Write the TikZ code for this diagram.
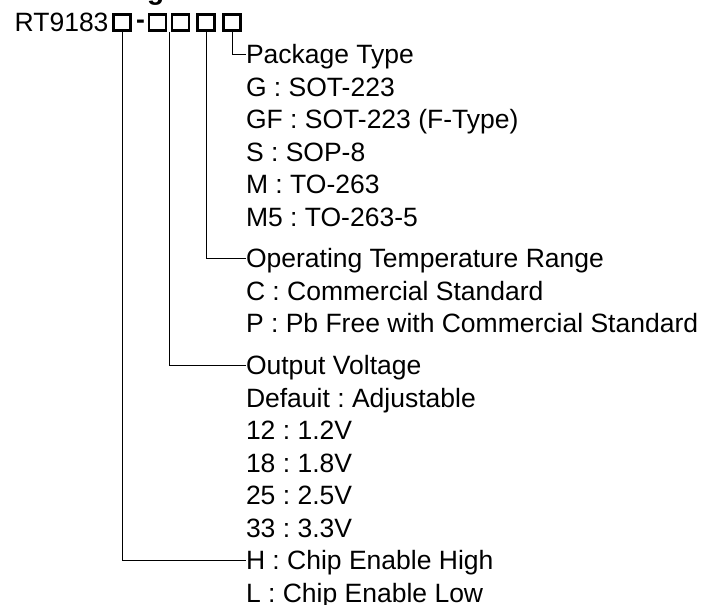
\documentclass[tikz,border=0pt]{standalone}
\usepackage{fontspec}
\setmainfont{Liberation Sans}
\usetikzlibrary{positioning,calc}

\begin{document}
\frenchspacing
\begin{tikzpicture}[x=1pt,y=-1pt,
  font=\fontsize{26.5pt}{32pt}\selectfont,
  cell/.style={draw,line width=2.6pt,minimum width=17pt,minimum height=16pt,inner sep=0pt},
  lbl/.style={inner sep=0pt,outer sep=0pt,text height=19pt,text depth=0pt},
  itm/.style={lbl,below=13.5pt of #1.south west,anchor=north west},
  lead/.style={line width=1pt}
]
\useasboundingbox (0,0) rectangle (702,605);
\begin{scope}
\clip (0,0) rectangle (702,605);
\node[anchor=base west,inner sep=0pt,font=\fontsize{28pt}{32pt}\selectfont\bfseries] (title) at (45.8,-0.9) {Ordering Information};
\end{scope}
% part number with the code fields
\node[anchor=base west,inner sep=0pt] (pn) at (14.5,31) {RT9183};
\node[cell] (b1) at (122,22.5) {};
\node[anchor=base,inner sep=0pt,font=\fontsize{26.5pt}{32pt}\selectfont\bfseries] (dash) at (140.5,28.5) {-};
\node[cell] (b2) at (157.5,22.5) {};
\node[cell] (b3) at (180.5,22.5) {};
\node[cell] (b4) at (206,22.5) {};
\node[cell] (b5) at (232,22.5) {};
% field descriptions
\node[lbl,anchor=west] (pkg) at (246,54) {Package Type};
\node[itm=pkg] (g) {G : SOT-223};
\node[itm=g] (gf) {GF : SOT-223 (F-Type)};
\node[itm=gf] (s) {S : SOP-8};
\node[itm=s] (m) {M : TO-263};
\node[itm=m] (m5) {M5 : TO-263-5};
\node[lbl,below=22.5pt of m5.south west,anchor=north west] (temp) {Operating Temperature Range};
\node[itm=temp] (c) {C : Commercial Standard};
\node[itm=c] (p) {P : Pb Free with Commercial Standard};
\node[lbl,below=23pt of p.south west,anchor=north west] (vout) {Output Voltage};
\node[itm=vout] (def) {Defauit : Adjustable};
\node[itm=def] (v12) {12 : 1.2V};
\node[itm=v12] (v18) {18 : 1.8V};
\node[itm=v18] (v25) {25 : 2.5V};
\node[itm=v25] (v33) {33 : 3.3V};
\node[itm=v33] (en) {H : Chip Enable High};
\node[itm=en] (dis) {L : Chip Enable Low};
% leaders
\draw[lead] (b1.south) |- (en.west);
\draw[lead] ($(b2.south)!0.5!(b3.south)$) |- (vout.west);
\draw[lead] (b4.south) |- (temp.west);
\draw[lead] (b5.south) |- (pkg.west);
\end{tikzpicture}
\end{document}
